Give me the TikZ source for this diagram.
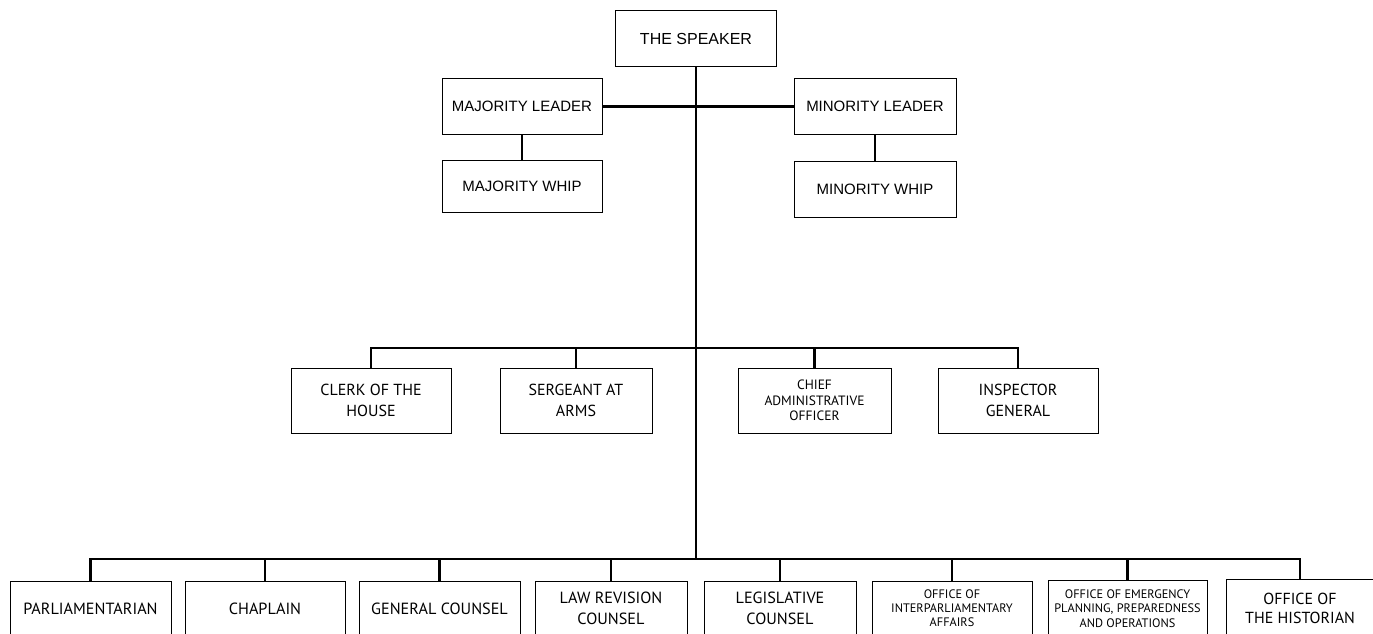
\documentclass[tikz,border=0pt]{standalone}
\usepackage{fontspec}
\setmainfont{Liberation Sans}
\newfontfamily\staffont{PT Sans}
\tikzset{
  box/.style={draw, line width=1pt, align=center, inner sep=0pt},
  leadbox/.style={box, minimum width=161pt, minimum height=56pt, font=\fontsize{15}{18}\selectfont},
  offbox/.style={box, minimum height=65pt, font=\staffont\fontsize{16}{20.5}\selectfont},
  lowbox/.style={box, minimum height=55pt, font=\staffont\fontsize{16.2}{20.5}\selectfont},
  link/.style={line width=2.5pt}
}
\begin{document}
\begin{tikzpicture}[x=1pt,y=-1pt]
	\useasboundingbox (0,0) rectangle (1373,634);
	\coordinate (midbar) at (696,348);
	\coordinate (lowbar) at (696,559);
	% leadership
	\node[leadbox, font=\fontsize{16}{19}\selectfont] (speaker) at (696,39) {THE SPEAKER};
	\node[leadbox, minimum width=160pt] (majl) at (522,106.5) {MAJORITY LEADER};
	\node[leadbox, minimum width=160pt, minimum height=52pt] (majw) at (522,186) {MAJORITY WHIP};
	\node[leadbox, minimum width=162pt] (minl) at (875,106.5) {MINORITY LEADER};
	\node[leadbox, minimum width=162pt] (minw) at (875,189) {MINORITY WHIP};
	% officers
	\node[offbox, minimum width=160pt] (clerk) at (371,400.5) {CLERK OF THE\\HOUSE};
	\node[offbox, minimum width=152pt] (serg) at (576,400.5) {SERGEANT AT\\ARMS};
	\node[offbox, minimum width=153pt, font=\staffont\fontsize{13.5}{15.5}\selectfont] (cao) at (814.5,400.5) {CHIEF\\ADMINISTRATIVE\\OFFICER};
	\node[offbox, minimum width=160pt] (insp) at (1018,400.5) {INSPECTOR\\GENERAL};
	% offices
	\node[lowbox, minimum width=161pt] (parl) at (90.5,608.5) {PARLIAMENTARIAN};
	\node[lowbox, minimum width=160pt] (chap) at (265,608.5) {CHAPLAIN};
	\node[lowbox, minimum width=161pt] (gc) at (439.5,608.5) {GENERAL COUNSEL};
	\node[lowbox, minimum width=152pt] (lrc) at (611,608.5) {LAW REVISION\\COUNSEL};
	\node[lowbox, minimum width=152pt] (lc) at (780,608.5) {LEGISLATIVE\\COUNSEL};
	\node[lowbox, minimum width=160pt, font=\staffont\fontsize{12.3}{14}\selectfont] (ipa) at (952,608.5) {OFFICE OF\\INTERPARLIAMENTARY\\AFFAIRS};
	\node[lowbox, minimum width=159pt, minimum height=57pt, font=\staffont\fontsize{12.3}{14.5}\selectfont] (emerg) at (1127.5,608.5) {OFFICE OF EMERGENCY\\PLANNING, PREPAREDNESS\\AND OPERATIONS};
	\node[lowbox, minimum width=148pt, minimum height=59pt, font=\staffont\fontsize{16}{19.5}\selectfont] (hist) at (1300,608.5) {OFFICE OF\\THE HISTORIAN};
	% connectors
	\draw[link] (speaker.south) -- (lowbar);
	\draw[link] (majl.east) -- (minl.west);
	\draw[link] (majl.south) -- (majw.north);
	\draw[link] (minl.south) -- (minw.north);
	\draw[link] (clerk.north) -- (clerk.north |- midbar) -| (insp.north);
	\draw[link] (serg.north) -- (serg.north |- midbar);
	\draw[link] (cao.north) -- (cao.north |- midbar);
	\draw[link] (parl.north) -- (parl.north |- lowbar) -| (hist.north);
	\draw[link] (chap.north) -- (chap.north |- lowbar);
	\draw[link] (gc.north) -- (gc.north |- lowbar);
	\draw[link] (lrc.north) -- (lrc.north |- lowbar);
	\draw[link] (lc.north) -- (lc.north |- lowbar);
	\draw[link] (ipa.north) -- (ipa.north |- lowbar);
	\draw[link] (emerg.north) -- (emerg.north |- lowbar);
\end{tikzpicture}
\end{document}
